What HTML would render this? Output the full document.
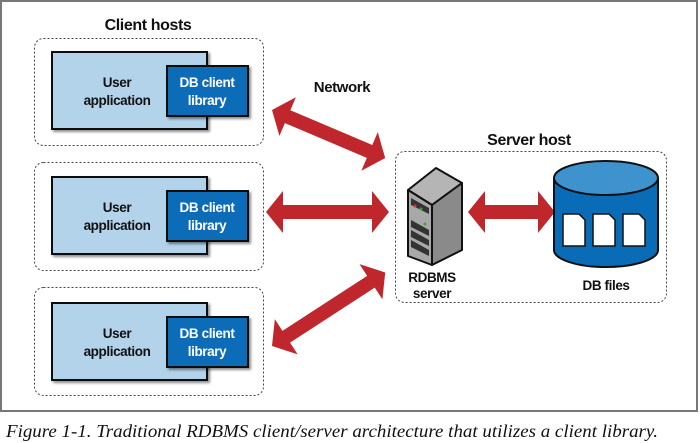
<!DOCTYPE html>
<html><head><meta charset="utf-8"><style>
html,body{margin:0;padding:0;background:#fff;}
svg{display:block;}
.b{font-family:"Liberation Sans",sans-serif;font-weight:bold;font-size:13.5px;fill:#111;letter-spacing:-0.4px;}
.cap{font-family:"Liberation Serif",serif;font-style:italic;font-size:18px;fill:#111;}
</style></head><body>
<svg width="700" height="443" viewBox="0 0 700 443" xmlns="http://www.w3.org/2000/svg">
<defs>
<filter id="sh" x="-10%" y="-10%" width="130%" height="130%"><feDropShadow dx="2" dy="2" stdDeviation="1.2" flood-color="#000" flood-opacity="0.45"/></filter>
</defs>
<rect x="1" y="1" width="696" height="410" fill="#fff" stroke="#777" stroke-width="2"/>
<text class="b" x="148" y="30" text-anchor="middle" style="font-size:16px">Client hosts</text>
<text class="b" x="342" y="92" text-anchor="middle" style="font-size:15px">Network</text>
<text class="b" x="529" y="145" text-anchor="middle" style="font-size:16px">Server host</text>

<g fill="none" stroke="#444" stroke-width="1" stroke-dasharray="2,2">
<rect x="34.5" y="38.5" width="229" height="107" rx="9"/>
<rect x="34.5" y="162.5" width="229" height="108" rx="9"/>
<rect x="34.5" y="287.5" width="229" height="108" rx="9"/>
<rect x="395.5" y="151.5" width="271" height="151" rx="9"/>
</g>

<g id="c1">
<rect x="52" y="52" width="155" height="77" fill="#b3d3ea" stroke="#111" stroke-width="2" filter="url(#sh)"/>
<rect x="167" y="66" width="81" height="50" fill="#0a6cb7" stroke="#111" stroke-width="2" filter="url(#sh)"/>
<text class="b" x="117" y="87" text-anchor="middle">User</text>
<text class="b" x="117" y="105" text-anchor="middle">application</text>
<text class="b" x="207" y="87" text-anchor="middle" style="fill:#fff">DB client</text>
<text class="b" x="207" y="105" text-anchor="middle" style="fill:#fff">library</text>
</g>
<use href="#c1" y="125"/>
<use href="#c1" y="251"/>

<g fill="#c0272d">
<polygon points="0,0 17,-21 17,-7 106,-7 106,-21 123,0 106,21 106,7 17,7 17,21" transform="translate(272,110) rotate(23)"/>
<polygon points="0,0 17,-21 17,-7 106,-7 106,-21 123,0 106,21 106,7 17,7 17,21" transform="translate(266,212)"/>
<polygon points="0,0 17,-21 17,-7 118,-7 118,-21 135,0 118,21 118,7 17,7 17,21" transform="translate(272,346) rotate(-33)"/>
<polygon points="0,0 17,-21 17,-7 70,-7 70,-21 87,0 70,21 70,7 17,7 17,21" transform="translate(468,212)"/>
</g>

<g stroke="#111" stroke-width="2" stroke-linejoin="round">
<polygon points="408,190 436,168 462,183 432,205" fill="#b5b5b5"/>
<polygon points="432,205 462,183 462,250 432,265" fill="#8a8a8a"/>
<polygon points="408,190 432,205 432,265 408,256" fill="#a8a8a8"/>
</g>
<g fill="#333">
<polygon points="411,198 429,208 429,214 411,205"/>
<polygon points="411,220 429,230 429,236 411,227"/>
<polygon points="411,230 429,240 429,246 411,237"/>
<polygon points="411,240 429,250 429,256 411,247"/>
</g>
<circle cx="415" cy="206" r="1.5" fill="#d33"/><circle cx="421" cy="209" r="1.5" fill="#3a3"/><circle cx="425" cy="224" r="1.5" fill="#3a3"/>
<text class="b" x="432" y="282" text-anchor="middle">RDBMS</text>
<text class="b" x="432" y="298" text-anchor="middle">server</text>

<path d="M554,178 L554,250 A52,17 0 0 0 658,250 L658,178" fill="#0a6cb7" stroke="#111" stroke-width="2"/>
<ellipse cx="606" cy="178" rx="52" ry="17" fill="#3e93cf" stroke="#111" stroke-width="2"/>
<g fill="#fff" stroke="#111" stroke-width="1.5">
<path d="M563,214 h16 l6,6 v26 h-22 z"/>
<path d="M593,214 h16 l6,6 v26 h-22 z"/>
<path d="M623,214 h16 l6,6 v26 h-22 z"/>
</g>
<text class="b" x="606" y="290" text-anchor="middle">DB files</text>

<text class="cap" x="6" y="437" textLength="652" lengthAdjust="spacingAndGlyphs">Figure 1-1. Traditional RDBMS client/server architecture that utilizes a client library.</text>
</svg>
</body></html>
